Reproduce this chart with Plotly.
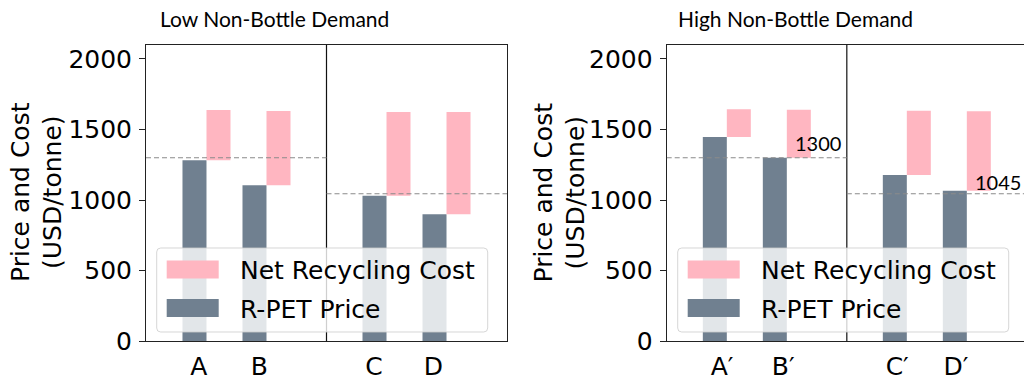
import plotly.graph_objects as go

# ---- data -------------------------------------------------------------
low_labels = ["A", "B", "C", "D"]
high_labels = ["A\u2032", "B\u2032", "C\u2032", "D\u2032"]

low_price = [1282, 1105, 1030, 899]        # R-PET price (USD/tonne)
low_cost = [357, 527, 594, 725]            # net recycling cost on top of price
high_price = [1447, 1300, 1177, 1067]
high_cost = [197, 340, 456, 563]

low_refs = [1300, 1045]                    # reference price levels per group
high_refs = [1300, 1045]
ref_labels = ["1300", "1045"]

# ---- layout helpers ---------------------------------------------------
W, H = 1024, 382
positions = [0, 1, 3, 4]
tick_shift_low = [0.07, 1.08, 2.99, 3.98]
tick_shift_high = [0.12, 1.14, 3.04, 4.02]
bar_w = 0.4
divider_x = 2.2
gray = "#708090"
pink = "#FFB6C1"
tick_font = dict(family="DejaVu Sans", size=25, color="black")
ref_line = dict(color="#8a8a8a", width=1.2, dash="5px,3px")


def px(x):
    return x / W


def py(y):
    return 1 - y / H


panels = [
    dict(xa="x", ya="y", dom=(146, 507), xr=(-0.808, 5.208), mirror_y=True,
         price=low_price, cost=low_cost, labels=low_labels, ticks=tick_shift_low,
         refs=low_refs, title="Low Non-Bottle Demand", title_x=274,
         ytitle_x=(20.5, 52.5), legend_x=156.7, show_ref_text=False),
    dict(xa="x2", ya="y2", dom=(666.7, 1024), xr=(-0.802, 5.153), mirror_y=False,
         price=high_price, cost=high_cost, labels=high_labels, ticks=tick_shift_high,
         refs=high_refs, title="High Non-Bottle Demand", title_x=795,
         ytitle_x=(543, 575), legend_x=677.7, show_ref_text=True),
]

fig = go.Figure()
shapes = []
annotations = []
layout_axes = {}

for i, p in enumerate(panels):
    xa, ya = p["xa"], p["ya"]
    fig.add_trace(go.Bar(
        x=positions, y=p["price"], width=bar_w, marker=dict(color=gray, line=dict(width=0)),
        xaxis=xa, yaxis=ya, name="R-PET Price", showlegend=False,
    ))
    fig.add_trace(go.Bar(
        x=[q + bar_w for q in positions], y=p["cost"], base=p["price"], width=bar_w,
        marker=dict(color=pink, line=dict(width=0)),
        xaxis=xa, yaxis=ya, name="Net Recycling Cost", showlegend=False,
    ))

    suffix = "" if i == 0 else "2"
    layout_axes["xaxis" + suffix] = dict(
        domain=[px(p["dom"][0]), px(p["dom"][1])], range=list(p["xr"]),
        anchor=ya, showgrid=False, zeroline=False, automargin=False,
        showline=True, linecolor="#222", linewidth=1, mirror=True,
        tickmode="array", tickvals=p["ticks"], ticktext=p["labels"],
        ticks="", ticklabelstandoff=3, tickfont=tick_font,
    )
    layout_axes["yaxis" + suffix] = dict(
        domain=[py(341.3), py(44.8)], range=[0, 2100],
        anchor=xa, showgrid=False, zeroline=False, automargin=False,
        showline=True, linecolor="#222", linewidth=1, mirror=p["mirror_y"],
        tickmode="linear", tick0=0, dtick=500,
        ticks="outside", ticklen=6, tickcolor="#222", tickwidth=1,
        ticklabelstandoff=2, tickfont=tick_font,
    )

    xref, yref = xa, ya
    # vertical divider between the two groups
    shapes.append(dict(type="line", xref=xref, yref=yref + " domain",
                       x0=divider_x, x1=divider_x, y0=0, y1=1,
                       line=dict(color="#111", width=1.2), layer="above"))
    # dashed reference levels
    shapes.append(dict(type="line", xref=xref, yref=yref,
                       x0=p["xr"][0], x1=divider_x, y0=p["refs"][0], y1=p["refs"][0],
                       line=ref_line, layer="above"))
    shapes.append(dict(type="line", xref=xref, yref=yref,
                       x0=divider_x, x1=p["xr"][1], y0=p["refs"][1], y1=p["refs"][1],
                       line=ref_line, layer="above"))

    if p["show_ref_text"]:
        annotations.append(dict(xref=xref, yref=yref, x=1.308, y=1402, text=ref_labels[0],
                                showarrow=False, xanchor="left", yanchor="middle",
                                font=dict(family="Lato", size=20, color="black")))
        annotations.append(dict(xref=xref, yref=yref, x=4.298, y=1128, text=ref_labels[1],
                                showarrow=False, xanchor="left", yanchor="middle",
                                font=dict(family="Lato", size=20, color="black")))

    # panel title
    annotations.append(dict(xref="paper", yref="paper", x=px(p["title_x"]), y=py(18.5),
                            text=p["title"], showarrow=False, xanchor="center", yanchor="middle",
                            font=dict(family="Lato", size=21, color="black")))
    # y axis title (two lines)
    for tx, line_text in zip(p["ytitle_x"], ["Price and Cost", "(USD/tonne)"]):
        annotations.append(dict(xref="paper", yref="paper", x=px(tx), y=py(192.5),
                                text=line_text, showarrow=False, textangle=-90,
                                xanchor="center", yanchor="middle",
                                font=dict(family="DejaVu Sans", size=25, color="black")))

    # legend box with rounded corners
    lx0, lx1 = p["legend_x"], p["legend_x"] + 331
    ly0, ly1 = 248, 332
    r = 4
    path = (f"M {px(lx0 + r)} {py(ly0)} L {px(lx1 - r)} {py(ly0)} "
            f"Q {px(lx1)} {py(ly0)} {px(lx1)} {py(ly0 + r)} "
            f"L {px(lx1)} {py(ly1 - r)} Q {px(lx1)} {py(ly1)} {px(lx1 - r)} {py(ly1)} "
            f"L {px(lx0 + r)} {py(ly1)} Q {px(lx0)} {py(ly1)} {px(lx0)} {py(ly1 - r)} "
            f"L {px(lx0)} {py(ly0 + r)} Q {px(lx0)} {py(ly0)} {px(lx0 + r)} {py(ly0)} Z")
    shapes.append(dict(type="path", xref="paper", yref="paper", path=path,
                       fillcolor="rgba(255,255,255,0.8)",
                       line=dict(color="rgba(204,204,204,0.8)", width=1), layer="above"))
    for (c, yc, label) in [(pink, 269.5, "Net Recycling Cost"), (gray, 308, "R-PET Price")]:
        shapes.append(dict(type="rect", xref="paper", yref="paper",
                           x0=px(lx0 + 10), x1=px(lx0 + 62), y0=py(yc - 9), y1=py(yc + 9),
                           fillcolor=c, line=dict(width=0), layer="above"))
        annotations.append(dict(xref="paper", yref="paper", x=px(lx0 + 81), y=py(yc + 1),
                                text=label, showarrow=False, xanchor="left", yanchor="middle",
                                font=dict(family="DejaVu Sans", size=25, color="black")))

fig.update_layout(
    width=W, height=H, autosize=False,
    margin=dict(l=0, r=0, t=0, b=0),
    paper_bgcolor="white", plot_bgcolor="white",
    barmode="overlay", showlegend=False,
    shapes=shapes, annotations=annotations,
    **layout_axes,
)

fig.write_html("out.html")
